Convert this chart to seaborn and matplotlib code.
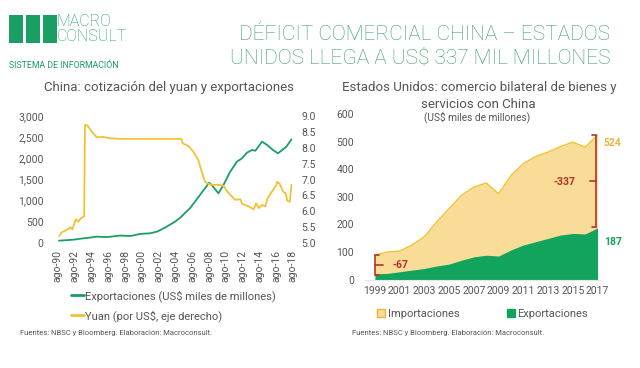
import numpy as np
import pandas as pd
import matplotlib
matplotlib.use("Agg")
import matplotlib.pyplot as plt
import seaborn as sns
from matplotlib.patches import Rectangle, Patch
from matplotlib.lines import Line2D

sns.set_theme(style="white")
plt.rcParams['font.family'] = ['Roboto', 'DejaVu Sans']

# ---------------- Left chart data (decimal years) ----------------
exp_t = [1990.7, 1991.5, 1992.5, 1993.6, 1994.5, 1995.2, 1996.4, 1998.0, 1999.2, 2000.4,
         2001.6, 2002.4, 2003.3, 2003.9, 2004.5, 2005.1, 2006.3, 2007.5, 2008.6, 2008.9,
         2009.7, 2010.3, 2011.1, 2011.9, 2012.5, 2013.1, 2013.7, 2014.1, 2014.9, 2015.5,
         2016.2, 2016.8, 2017.4, 2017.8, 2018.4]
exp_v = [55, 65, 80, 110, 130, 150, 140, 175, 165, 215,
         230, 270, 360, 430, 500, 590, 819, 1134, 1425, 1370,
         1174, 1370, 1685, 1921, 2000, 2134, 2197, 2180, 2394, 2315,
         2197, 2118, 2213, 2276, 2449]

yuan_t = [1990.74, 1991.0, 1991.6, 1992.1, 1992.3, 1992.7, 1993.0, 1993.3, 1993.7, 1993.8,
          1994.1, 1994.6, 1995.2, 1996.0, 1996.8, 1998.0, 2000.0, 2002.0, 2004.0, 2005.3,
          2005.44, 2006.1, 2006.7, 2007.3, 2007.7, 2008.1, 2008.5, 2009.0, 2009.9, 2010.3,
          2010.9, 2011.7, 2012.3, 2012.5, 2013.3, 2013.9, 2014.2, 2014.5, 2014.9, 2015.3,
          2015.5, 2015.8, 2016.2, 2016.6, 2016.7, 2017.0, 2017.4, 2017.7, 2017.9, 2018.2,
          2018.4]
yuan_v = [5.22, 5.33, 5.41, 5.49, 5.43, 5.75, 5.67, 5.78, 5.83, 8.72,
          8.70, 8.51, 8.33, 8.34, 8.30, 8.28, 8.28, 8.28, 8.28, 8.28,
          8.14, 8.06, 7.88, 7.61, 7.25, 6.93, 6.86, 6.83, 6.83, 6.80,
          6.57, 6.36, 6.38, 6.24, 6.15, 6.06, 6.25, 6.10, 6.20, 6.15,
          6.38, 6.51, 6.67, 6.83, 6.93, 6.86, 6.62, 6.57, 6.33, 6.30,
          6.83]

left_tick_years = list(range(1990, 2019, 2))
left_tick_labels = [f"ago-{y % 100:02d}" for y in left_tick_years]

# ---------------- Right chart data ----------------
years = list(range(1999, 2018))
imports = [88, 100, 103, 125, 155, 209, 257, 305, 335, 350, 311, 377, 420, 446, 462, 482, 498, 480, 524]
exports = [21, 22, 28, 34, 40, 49, 56, 70, 82, 88, 85, 107, 125, 137, 149, 161, 167, 165, 187]

# ---------------- colours ----------------
GREEN = "#1b9e63"
GREEN_AREA = "#12a45c"
YELLOW = "#f1c232"
YELLOW_AREA = "#f8dc97"
RED = "#b5322a"
GREY = "#555555"
TITLE_GREEN = "#3a9e6e"

fig = plt.figure(figsize=(6.4, 3.68), dpi=100)
W, H = 640, 368

def fx(px):
    return px / W

def fy(py):
    return 1 - py / H

# ---------------- Header ----------------
for x0 in (9.3, 26.0, 42.7):
    fig.patches.append(Rectangle((fx(x0), fy(43)), 14 / W, 28 / H, transform=fig.transFigure,
                                 facecolor=GREEN, edgecolor="none"))
fig.text(fx(57), fy(29), "MACRO\nCONSULT", color=GREEN, fontsize=11.5, fontweight="light",
         va="center", ha="left", linespacing=0.92)
fig.text(fx(9), fy(66), "SISTEMA DE INFORMACIÓN", color=GREEN, fontsize=6.3, va="center", ha="left")

fig.text(fx(610), fy(35), "DÉFICIT COMERCIAL CHINA – ESTADOS", color=TITLE_GREEN, fontsize=15,
         fontweight="light", ha="right", va="center")
fig.text(fx(610), fy(58), "UNIDOS LLEGA A US$ 337 MIL MILLONES", color=TITLE_GREEN, fontsize=15,
         fontweight="light", ha="right", va="center")

# ---------------- Left chart ----------------
ax1 = fig.add_axes([fx(52), fy(243), 245 / W, (243 - 116) / H])
df_exp = pd.DataFrame({"t": exp_t, "v": exp_v})
sns.lineplot(data=df_exp, x="t", y="v", ax=ax1, color=GREEN, lw=1.3)
ax1.set_xlim(1989.87, 2019.06)
ax1.set_ylim(0, 3000)
ax1.set_yticks(range(0, 3001, 500))
ax1.set_yticklabels([f"{v:,}" for v in range(0, 3001, 500)])
ax1.set_xticks([y + 0.58 for y in left_tick_years])
ax1.set_xticklabels(left_tick_labels, rotation=90)
ax1.set_xlabel("")
ax1.set_ylabel("")
ax1.tick_params(axis="both", length=0, colors=GREY, labelsize=7.5)
ax1.tick_params(axis="y", pad=6)
ax1.tick_params(axis="x", pad=5)
for s in ax1.spines.values():
    s.set_visible(False)

ax2 = ax1.twinx()
df_yuan = pd.DataFrame({"t": yuan_t, "v": yuan_v})
sns.lineplot(data=df_yuan, x="t", y="v", ax=ax2, color=YELLOW, lw=1.3)
ax2.set_ylim(5.0, 9.0)
ax2.set_yticks(np.arange(5.0, 9.01, 0.5))
ax2.set_yticklabels([f"{v:.1f}" for v in np.arange(5.0, 9.01, 0.5)])
ax2.set_ylabel("")
ax2.tick_params(axis="y", length=0, colors=GREY, labelsize=7.5, pad=3)
for s in ax2.spines.values():
    s.set_visible(False)

fig.text(fx(169), fy(88), "China: cotización del yuan y exportaciones", color=GREY, fontsize=9.5,
         ha="center", va="center")

handles_l = [Line2D([0], [0], color=GREEN, lw=2), Line2D([0], [0], color=YELLOW, lw=2)]
fig.legend(handles_l, ["Exportaciones (US$ miles de millones)", "Yuan (por US$, eje derecho)"],
           loc="upper left", bbox_to_anchor=(fx(71), fy(290)), frameon=False, fontsize=8,
           handlelength=1.2, handletextpad=0.1, labelspacing=0.75, labelcolor=GREY,
           borderaxespad=0, borderpad=0)

fig.text(fx(20), fy(333), "Fuentes: NBSC y Bloomberg. Elaboración: Macroconsult.", color=GREY,
         fontsize=5.5, ha="left", va="center")

# ---------------- Right chart ----------------
ax3 = fig.add_axes([fx(365), fy(279.5), 235 / W, (279.5 - 114) / H])
ax3.fill_between(years, 0, imports, color=YELLOW_AREA, lw=0, zorder=1)
ax3.fill_between(years, 0, exports, color=GREEN_AREA, lw=0, zorder=2)
sns.lineplot(x=years, y=imports, ax=ax3, color=YELLOW, lw=1.0, zorder=3)
ax3.set_xlim(1998.2, 2017.2)
ax3.set_ylim(0, 600)
ax3.set_yticks(range(0, 601, 100))
ax3.set_xticks(range(1999, 2018, 2))
ax3.tick_params(axis="both", length=0, colors=GREY, labelsize=7.5)
ax3.tick_params(axis="y", pad=8)
ax3.tick_params(axis="x", pad=5)
for k, s in ax3.spines.items():
    s.set_visible(k == "bottom")
ax3.spines["bottom"].set_color("#e6e6e6")
ax3.spines["bottom"].set_linewidth(0.8)

# bracket 1999
b0_lo, b0_hi = exports[0] - 6, imports[0]
x0 = years[0]
ax3.plot([x0 + 0.33, x0, x0, x0 + 0.33], [b0_lo, b0_lo, b0_hi, b0_hi], color=RED, lw=1.2,
         solid_joinstyle="miter", zorder=5, clip_on=False)
ax3.plot([x0, x0 + 0.65], [(b0_lo + b0_hi) / 2] * 2, color=RED, lw=1.2, zorder=5)
ax3.text(x0 + 1.45, (b0_lo + b0_hi) / 2, f"-{imports[0] - exports[0]}", color=RED, fontsize=7.5,
         fontweight="bold", ha="left", va="center")

# bracket 2017
xe = years[-1] - 0.13
b1_lo, b1_hi = exports[-1] + 3, imports[-1] + 1
ax3.plot([xe - 0.34, xe, xe, xe - 0.34], [b1_lo, b1_lo, b1_hi, b1_hi], color=RED, lw=1.2,
         solid_joinstyle="miter", zorder=5)
ax3.plot([xe, xe - 0.47], [(b1_lo + b1_hi) / 2] * 2, color=RED, lw=1.2, zorder=5)
ax3.text(xe - 1.7, (b1_lo + b1_hi) / 2 - 3, f"-{imports[-1] - exports[-1]}", color=RED, fontsize=7.5,
         fontweight="bold", ha="right", va="center")

ax3.annotate(f"{imports[-1]}", (years[-1], imports[-1]), xytext=(4.5, -5.5), textcoords="offset points",
             color="#e9b83a", fontsize=7.5, fontweight="bold", ha="left", va="center", annotation_clip=False)
ax3.annotate(f"{exports[-1]}", (years[-1], exports[-1]), xytext=(4.5, -10), textcoords="offset points",
             color=GREEN_AREA, fontsize=7.5, fontweight="bold", ha="left", va="center", annotation_clip=False)

fig.text(fx(479), fy(88), "Estados Unidos: comercio bilateral de bienes y", color=GREY, fontsize=9.5,
         ha="center", va="center")
fig.text(fx(478), fy(104), "servicios con China", color=GREY, fontsize=9.5, ha="center", va="center")
fig.text(fx(477), fy(117), "(US$ miles de millones)", color=GREY, fontsize=7.3, ha="center", va="center")

handles_r = [Patch(facecolor=YELLOW_AREA, edgecolor="#e9b83a", lw=1.0),
             Patch(facecolor=GREEN_AREA, edgecolor=GREEN_AREA)]
fig.legend(handles_r, ["Importaciones", "Exportaciones"], loc="center left",
           bbox_to_anchor=(fx(377), fy(314)), ncol=2, frameon=False, fontsize=8,
           handlelength=0.75, handleheight=0.75, handletextpad=0.2, columnspacing=4.3,
           labelcolor=GREY, borderaxespad=0, borderpad=0)

fig.text(fx(352), fy(333), "Fuentes: NBSC y Bloomberg. Elaboración: Macroconsult.", color=GREY,
         fontsize=5.5, ha="left", va="center")

fig.savefig("out.png", dpi=100)
